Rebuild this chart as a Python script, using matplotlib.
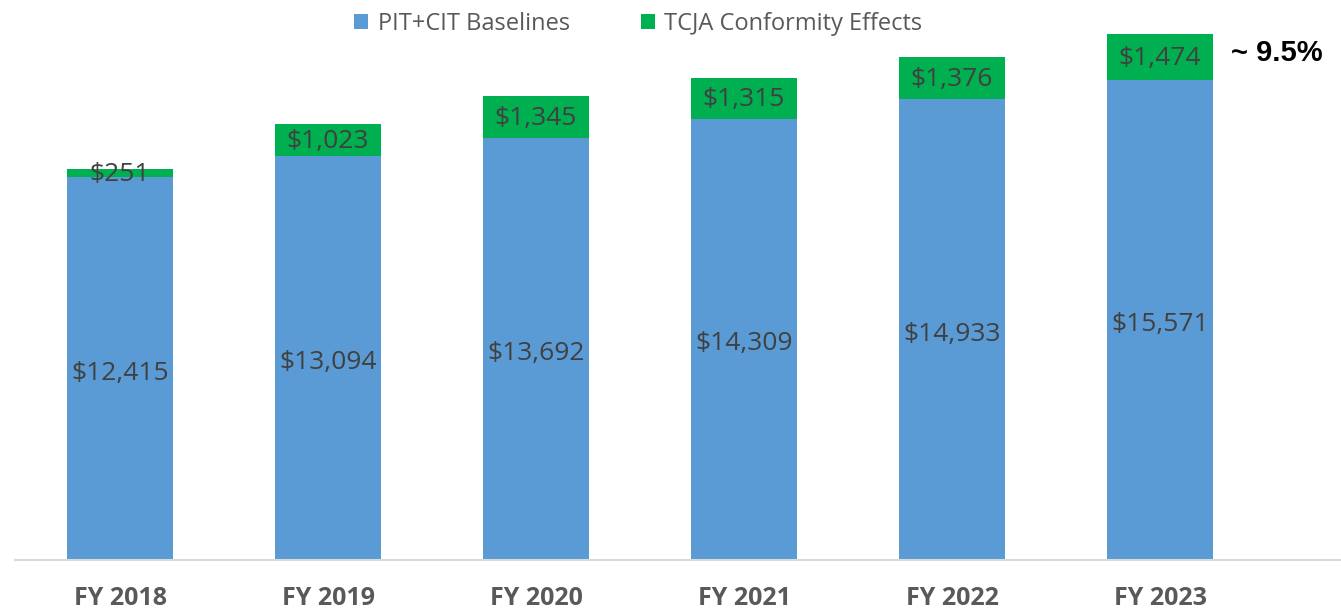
import matplotlib.pyplot as plt
import numpy as np

years = ["FY 2018", "FY 2019", "FY 2020", "FY 2021", "FY 2022", "FY 2023"]
baseline = [12415, 13094, 13692, 14309, 14933, 15571]
tcja = [251, 1023, 1345, 1315, 1376, 1474]

blue = "#5B9BD5"
green = "#00B050"
txt = "#404040"

fig = plt.figure(figsize=(13.41, 6.14), dpi=100)
ax = fig.add_axes([15 / 1341, 54 / 614, 1326 / 1341, 560 / 614])

x = np.arange(len(years))
w = 0.51
b1 = ax.bar(x, baseline, w, color=blue, label="PIT+CIT Baselines")
b2 = ax.bar(x, tcja, w, bottom=baseline, color=green, label="TCJA Conformity Effects")

for i in range(len(years)):
    ax.text(x[i], baseline[i] / 2 - 150, f"${baseline[i]:,}", ha="center", va="center",
            fontsize=19, color=txt, family="Open Sans")
    ax.text(x[i], baseline[i] + tcja[i] / 2 - 50, f"${tcja[i]:,}", ha="center", va="center",
            fontsize=19, color=txt, family="Open Sans")

ax.text(x[-1] + 0.34, baseline[-1] + tcja[-1] - 600, "~ 9.5%", ha="left", va="center",
        fontsize=21, fontweight="bold", color="black", family="Liberation Sans")

ax.set_xlim(-0.505, 5.87)
ax.set_ylim(0, 18150)
ax.set_xticks(x)
ax.set_xticklabels(years, fontsize=18, fontweight="bold", color="#595959", family="Open Sans")
ax.tick_params(axis="x", length=0, pad=19)
ax.set_yticks([])
for s in ["top", "right", "left"]:
    ax.spines[s].set_visible(False)
ax.spines["bottom"].set_color("#D9D9D9")
ax.spines["bottom"].set_linewidth(1.5)

leg = fig.legend(handles=[b1, b2], loc="upper center", bbox_to_anchor=(0.476, 1.015), ncol=2,
                 frameon=False, handlelength=0.6, handleheight=0.6, columnspacing=3.0,
                 handletextpad=0.4, prop={"family": "Open Sans", "size": 17})
for t in leg.get_texts():
    t.set_color("#595959")

fig.savefig("out.png", dpi=100)
